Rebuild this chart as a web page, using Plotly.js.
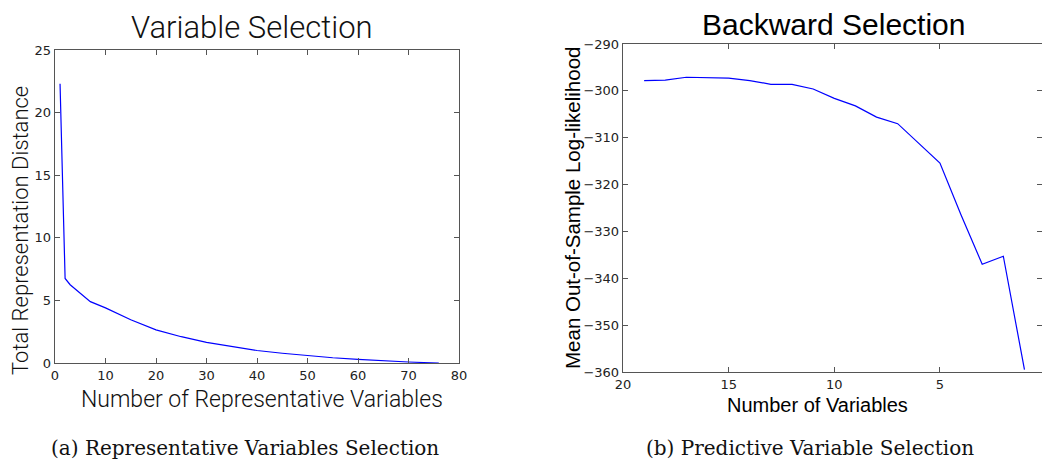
<!DOCTYPE html>
<html>
<head>
<meta charset="utf-8">
<script src="https://cdn.plot.ly/plotly-3.0.1.min.js"></script>
<style>html,body{margin:0;padding:0;background:#fff;}#chart{width:1042px;height:465px;}</style>
</head>
<body>
<div id="chart"></div>
<script>
// Left panel: Variable Selection
const repVars = [1, 2, 3, 5, 7, 10, 15, 20, 25, 30, 35, 40, 45, 50, 55, 60, 65, 70, 76];
const repDistance = [22.3, 6.75, 6.25, 5.6, 4.9, 4.4, 3.45, 2.65, 2.1, 1.65, 1.3, 1.0, 0.78, 0.58, 0.42, 0.29, 0.17, 0.08, 0.0];
// Right panel: Backward Selection
const numVars = [19, 18, 17, 16, 15, 14, 13, 12, 11, 10, 9, 8, 7, 6, 5, 4, 3, 2, 1];
const logLik = [-297.8, -297.7, -297.1, -297.2, -297.3, -297.8, -298.6, -298.6, -299.6, -301.6, -303.2, -305.6, -307.0, -311.2, -315.4, -326.5, -337.0, -335.3, -359.5];

const leftXTicks = [0, 10, 20, 30, 40, 50, 60, 70, 80];
const leftYTicks = [0, 5, 10, 15, 20, 25];
const rightXTicks = [20, 15, 10, 5];
const rightYTicks = [-290, -300, -310, -320, -330, -340, -350, -360];

const W = 1042, H = 465;
const px = v => v / W;
const py = v => 1 - v / H;

const tickFont = {family: 'DejaVu Sans, sans-serif', size: 13, color: '#222'};
const axisCommon = {
  showgrid: false, zeroline: false, showline: true, linecolor: '#555', linewidth: 1.3,
  ticks: 'inside', ticklen: 5, tickwidth: 1, tickcolor: '#555', mirror: 'ticks',
  tickfont: tickFont, automargin: false
};

const traces = [
  {x: repVars, y: repDistance, type: 'scatter', mode: 'lines', line: {color: '#0000ff', width: 1.2}, xaxis: 'x', yaxis: 'y', hoverinfo: 'skip'},
  {x: numVars, y: logLik, type: 'scatter', mode: 'lines', line: {color: '#0000ff', width: 1.2}, xaxis: 'x2', yaxis: 'y2', hoverinfo: 'skip'}
];

const lightFont = {family: 'Roboto, Liberation Sans, sans-serif', weight: 300, color: '#111'};
const regFont = {family: 'Liberation Sans, Arial, sans-serif', color: '#000'};
const capFont = {family: 'DejaVu Serif, Liberation Serif, serif', size: 20, color: '#111'};

function ann(text, x, y, font, angle) {
  return {text: text, xref: 'paper', yref: 'paper', x: px(x), y: py(y), xanchor: 'center', yanchor: 'middle',
          showarrow: false, font: font, textangle: angle || 0};
}

const layout = {
  width: W, height: H,
  margin: {l: 0, r: 0, t: 0, b: 0},
  paper_bgcolor: '#fff', plot_bgcolor: '#fff',
  showlegend: false,
  xaxis: Object.assign({}, axisCommon, {
    domain: [px(55), px(459)], anchor: 'y', range: [0, 80], tickvals: leftXTicks
  }),
  yaxis: Object.assign({}, axisCommon, {
    domain: [py(363), py(50)], anchor: 'x', range: [0, 25], tickvals: leftYTicks
  }),
  xaxis2: Object.assign({}, axisCommon, {
    domain: [px(623), 1], anchor: 'y2', range: [20, 0.17], tickvals: rightXTicks
  }),
  yaxis2: Object.assign({}, axisCommon, {
    domain: [py(372), py(44)], anchor: 'x2', range: [-360, -290], tickvals: rightYTicks
  }),
  annotations: [
    ann('Variable Selection', 252, 27, Object.assign({size: 31}, lightFont)),
    ann('Backward Selection', 833, 25, Object.assign({size: 30}, regFont)),
    ann('Number of Representative Variables', 262, 399, Object.assign({size: 23}, lightFont)),
    ann('Total Representation Distance', 20, 231, Object.assign({size: 22}, lightFont), -90),
    ann('Number of Variables', 817, 405, Object.assign({size: 20}, regFont)),
    ann('Mean Out-of-Sample Log-likelihood', 573, 208, Object.assign({size: 20.5}, regFont), -90),
    ann('(a) Representative Variables Selection', 245, 448, capFont),
    ann('(b) Predictive Variable Selection', 810, 448, capFont)
  ]
};

Plotly.newPlot('chart', traces, layout, {staticPlot: true, displayModeBar: false});
</script>
</body>
</html>
